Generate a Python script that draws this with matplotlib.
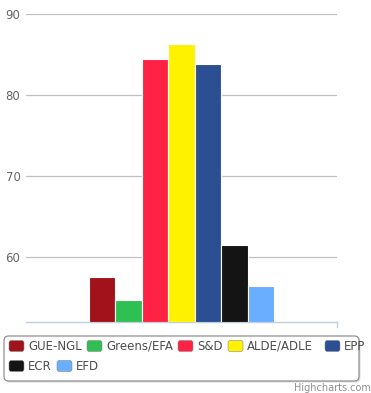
import matplotlib
matplotlib.use('Agg')
import matplotlib.pyplot as plt
from matplotlib.patches import FancyBboxPatch

parties = ['GUE-NGL', 'Greens/EFA', 'S&D', 'ALDE/ADLE', 'EPP', 'ECR', 'EFD']
values = [57.5, 54.7, 84.4, 86.3, 83.8, 61.5, 56.5]
colors = ['#a1121b', '#2fbf52', '#ff2244', '#fff200', '#2c4f93', '#141414', '#6aaeff']
yticks = [60, 70, 80, 90]

W, H = 371, 393
fig = plt.figure(figsize=(W / 100, H / 100), dpi=100)
ax = fig.add_axes([26 / W, (H - 322) / H, (337 - 26) / W, (322 - 14) / H])

# one category, seven series side by side
bar_w = 26.5 / 311
n = len(parties)
for i, (v, c) in enumerate(zip(values, colors)):
    x = 0.5 + (i - (n - 1) / 2) * bar_w
    ax.bar(x, v - 52, bottom=52, width=bar_w, color=c, edgecolor='white', linewidth=0.8, zorder=3)

ax.set_xlim(0, 1)
ax.set_ylim(52, 90)
ax.set_yticks(yticks)
ax.set_yticklabels([str(t) for t in yticks], color='#666666', fontsize=8.5)
ax.tick_params(axis='y', length=0, pad=4)
ax.tick_params(axis='x', bottom=False, labelbottom=False)
ax.grid(axis='y', color='#c0c0c0', linewidth=0.9, zorder=0)
for s in ['top', 'left', 'right']:
    ax.spines[s].set_visible(False)
ax.spines['bottom'].set_color('#c0d0e0')
ax.spines['bottom'].set_linewidth(1)
ax.plot([1, 1], [52, 52 - 5 / 8.1], color='#c0d0e0', lw=1, clip_on=False)

# legend box
box = FancyBboxPatch((4 / W, (H - 381) / H), 355 / W, 45 / H,
                     boxstyle='round,pad=0,rounding_size=0.012',
                     transform=fig.transFigure, facecolor='white',
                     edgecolor='#909090', linewidth=0.9)
shadow = FancyBboxPatch((5.5 / W, (H - 382.5) / H), 355 / W, 45 / H,
                        boxstyle='round,pad=0,rounding_size=0.012',
                        transform=fig.transFigure, facecolor='#dddddd',
                        edgecolor='none')
fig.patches.extend([shadow, box])

leg_x = [9, 87, 178, 228, 325, 9, 57]
leg_y = [346, 346, 346, 346, 346, 366, 366]
for name, c, lx, ly in zip(parties, colors, leg_x, leg_y):
    sw = FancyBboxPatch(((lx) / W, (H - ly - 5.5) / H), 15 / W, 11 / H,
                        boxstyle='round,pad=0,rounding_size=0.006',
                        transform=fig.transFigure, facecolor=c,
                        edgecolor='#888888', linewidth=0.4)
    fig.patches.append(sw)
    fig.text((lx + 19) / W, (H - ly) / H, name, fontsize=8.5, color='#4d4d4d',
             va='center', ha='left')

fig.text(371 / W, (H - 388) / H, 'Highcharts.com', fontsize=7, color='#909090',
         ha='right', va='center')

fig.savefig('out.png', dpi=100)
